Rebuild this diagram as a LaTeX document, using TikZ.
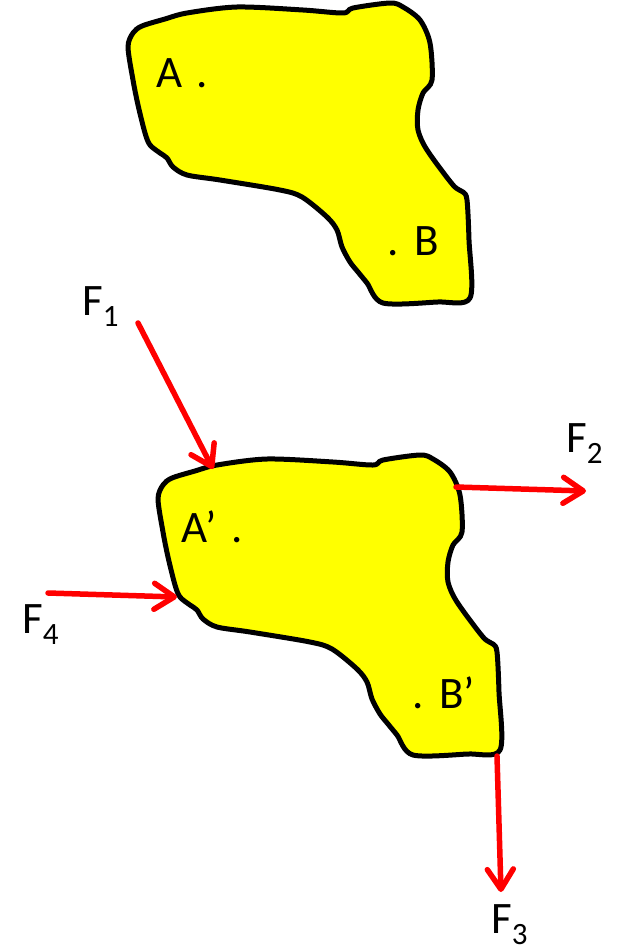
\documentclass[tikz,border=0pt]{standalone}
\usepackage{fontspec}
\setmainfont{Carlito}
\usetikzlibrary{arrows.meta}
\definecolor{blobfill}{RGB}{255,255,0}
\definecolor{forcered}{RGB}{255,0,0}
\tikzset{
  blob/.style={draw=black,fill=blobfill,line width=5pt,line join=round},
  force/.style={draw=forcered,line width=5.5pt,line cap=round,
    -{Straight Barb[length=20pt,width=26pt,round]}},
  lbl/.style={inner sep=0pt,anchor=base west,font=\fontsize{45}{45}\selectfont},
}
\newcommand{\subidx}[1]{\raisebox{-11pt}{\fontsize{31}{31}\selectfont #1}}
\newcommand{\blobpath}{plot[smooth cycle,tension=0.5] coordinates {
 (128,47) (133,33) (142,26) (165,19) (187,13) (237,7) (303,10) (343,13) (353,8)
 (390,3) (403,7) (420,20) (430,43) (432,80) (423,93) (418,110) (418,130) (427,150)
 (453,185) (463,192) (467,200) (469,240) (470,298) (437,302) (383,303) (367,283)
 (358,272) (350,262) (342,247) (337,230) (327,217) (302,197) (280,190) (220,180)
 (187,175) (173,167) (167,158) (160,153) (150,145) (145,133) (138,105) (133,80)}}
\begin{document}
\begin{tikzpicture}[x=1pt,y=-1pt]
\useasboundingbox (0,0) rectangle (619,950);
% top body
\path[blob] \blobpath;
\node[lbl] (A) at (156,88) {A\hspace{4pt} .};
\node[lbl] (B) at (387,255) {.\hspace{2pt} B};
% bottom (displaced) body
\begin{scope}[shift={(30,452)}]
\path[blob] \blobpath;
\end{scope}
\node[lbl] (Ap) at (181,542) {A’\hspace{5pt} .};
\node[lbl] (Bp) at (412,708) {.\hspace{2pt} B’};
% force application points
\coordinate (f1s) at (138,323);
\coordinate (f1e) at (213,469);
\coordinate (f2s) at (456,487);
\coordinate (f2e) at (586,491);
\coordinate (f3s) at (497,756);
\coordinate (f3e) at (501,892);
\coordinate (f4s) at (48,593);
\coordinate (f4e) at (177,597);
\draw[force] (f1s) -- (f1e);
\draw[force] (f2s) -- (f2e);
\draw[force] (f3s) -- (f3e);
\draw[force] (f4s) -- (f4e);
% labels
\node[lbl] (F1) at (82,315) {F\subidx{1}};
\node[lbl] (F2) at (566,452) {F\subidx{2}};
\node[lbl] (F3) at (491,933) {F\subidx{3}};
\node[lbl] (F4) at (22,633) {F\subidx{4}};
\end{tikzpicture}
\end{document}
